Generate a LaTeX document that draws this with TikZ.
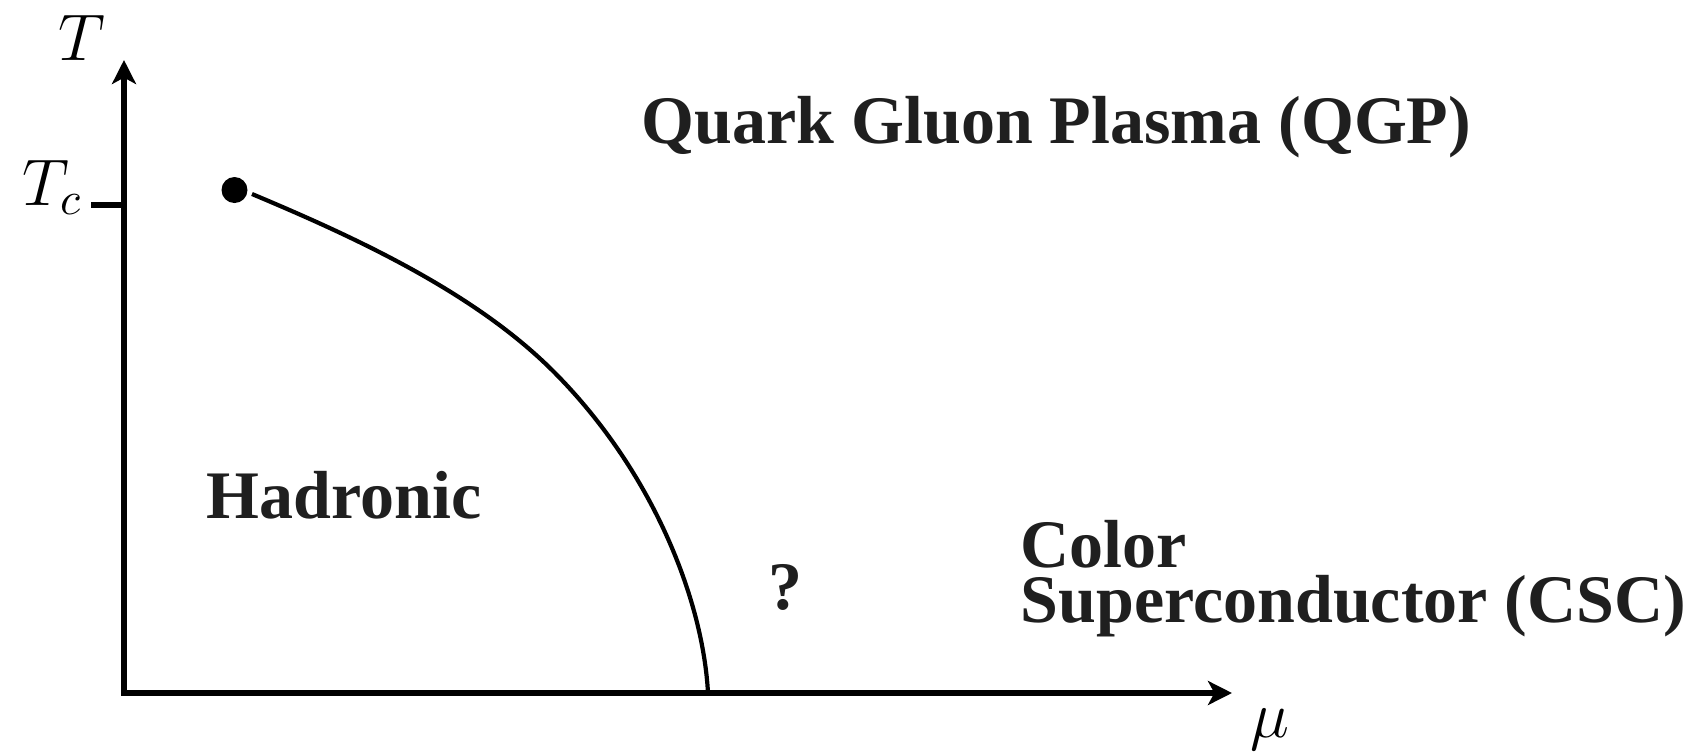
\RequirePackage{fix-cm}
\documentclass[tikz,border=0pt]{standalone}
\usepackage{fontspec}
\setmainfont{Liberation Serif}
\usetikzlibrary{arrows.meta}
\begin{document}
\begin{tikzpicture}[x=0.25pt,y=-0.25pt,
  tip/.tip={Stealth[length=6pt,width=6pt,inset=1.6pt]},
  axis/.style={line width=1.3pt, tip-tip},
  phase/.style={font=\fontsize{17}{20}\selectfont\bfseries, text=black!88, inner sep=0pt},
  axlabel/.style={font=\fontsize{16.5}{20}\selectfont, inner sep=0pt},
  boundary/.style={line width=1.05pt}]
\useasboundingbox (0,0) rectangle (1697,752);
% axes
\coordinate (ytip) at (124,60);
\coordinate (xtip) at (1232,693);
\draw[axis] (ytip) |- (xtip);
% T_c tick
\coordinate (tc) at (124,205);
\coordinate (tctick) at (91,205);
\draw[line width=1.3pt] (tctick) -- (tc);
% axis labels
\node[axlabel, anchor=base east] (tclabel) at (83,205) {$T_c$};
\node[axlabel, anchor=base] (tlabel) at (82,60) {$T$};
\node[axlabel, anchor=base] (mulabel) at (1270,737) {$\mu$};
% critical point and boundary
\node[circle, fill=black, inner sep=0pt, minimum size=6.5pt] (cep) at (234.5,190) {};
\coordinate (c0) at (252,194);
\coordinate (cm) at (553,371);
\coordinate (c1) at (708,693);
\draw[boundary] (c0) .. controls (352,236) and (473,291) .. (cm)
                     .. controls (653,471) and (703,600) .. (c1);
% phase labels
\node[phase, anchor=base west] (qgp) at (641,143) {Quark Gluon Plasma (QGP)};
\node[phase, anchor=base west] (had) at (206,518) {Hadronic};
\node[phase, anchor=base] (q) at (786,609) {?};
\node[phase, anchor=base west] (csc) at (1020,567)
  {\vtop{\baselineskip=13.75pt\lineskiplimit=-30pt\lineskip=0pt
   \hbox{Color}\hbox{Superconductor (CSC)}}};
\end{tikzpicture}
\end{document}
